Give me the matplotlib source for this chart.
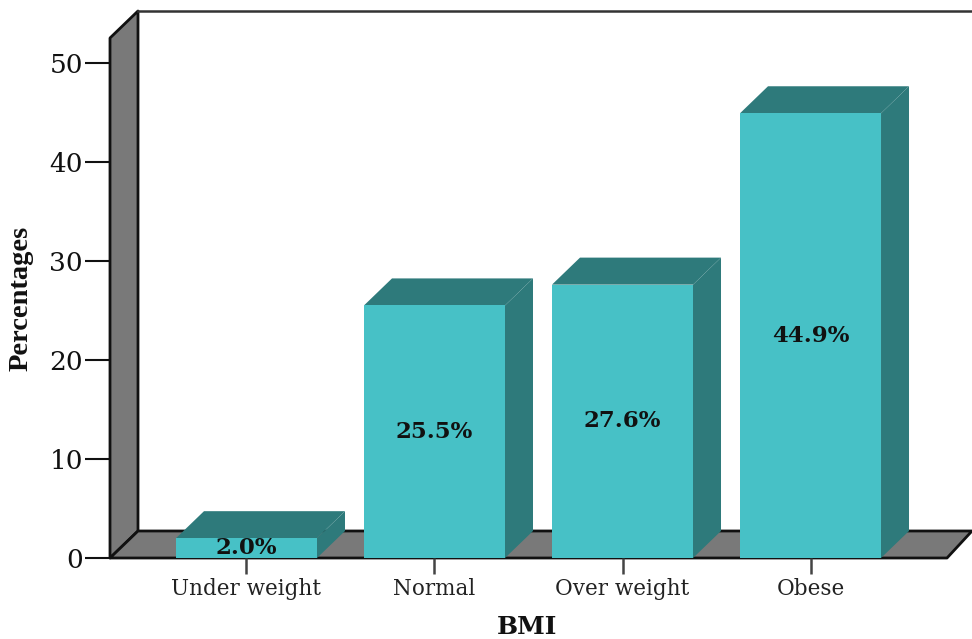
import matplotlib
matplotlib.use("Agg")
import matplotlib.pyplot as plt
from matplotlib.patches import Polygon

categories = ["Under weight", "Normal", "Over weight", "Obese"]
percentages = [2.0, 25.5, 27.6, 44.9]
y_ticks = [0, 10, 20, 30, 40, 50]

FRONT = "#47C1C6"
SIDE = "#2E7A7B"
WALL = "#797979"
INK = "#111111"

W, H = 972, 639
fig = plt.figure(figsize=(W / 100, H / 100), dpi=100, facecolor="white")
# Axes span the front plane of the 3-D box
left, right, bottom, top = 110, 947, 558, 38
ax = fig.add_axes([left / W, 1 - bottom / H, (right - left) / W, (bottom - top) / H])
ax.set_xlim(-0.726, 3.726)
ax.set_ylim(0, 52.5)
ax.patch.set_visible(False)

# Depth of the box and bars, in data units
DX, DY = 28 / 188, 27 / 9.9
x0, x1 = ax.get_xlim()
y0, y1 = ax.get_ylim()


def face(points, color, z, edge="none", lw=0):
    ax.add_patch(Polygon(points, closed=True, facecolor=color, edgecolor=edge,
                         linewidth=lw, zorder=z, clip_on=False, joinstyle="round"))


# Side wall and floor
face([(x0, y0), (x0 + DX, y0 + DY), (x0 + DX, y1 + DY), (x0, y1)], WALL, 1, INK, 2.0)
face([(x0, y0), (x1, y0), (x1 + 25 / 188, y0 + DY), (x0 + DX, y0 + DY)], WALL, 1, INK, 2.0)
# Back plane outline along the top
ax.plot([x0 + DX, x1 + 25 / 188], [y1 + DY, y1 + DY], color="#333333", lw=1.8,
        clip_on=False, zorder=1)

# Bars: side, top, then front face
BAR_W = 0.75
for i, (name, val) in enumerate(zip(categories, percentages)):
    a, b = i - BAR_W / 2, i + BAR_W / 2
    face([(b, 0), (b + DX, DY), (b + DX, val + DY), (b, val)], SIDE, 3 + i)
    face([(a, val), (b, val), (b + DX, val + DY), (a + DX, val + DY)], SIDE, 3 + i)
    face([(a, 0), (b, 0), (b, val), (a, val)], FRONT, 3 + i)
    ax.text(i, val / 2, f"{val:.1f}%", ha="center", va="center", zorder=10,
            family="DejaVu Serif", fontweight="bold", fontsize=16.5, color=INK)

for side in ("top", "right", "left", "bottom"):
    ax.spines[side].set_visible(False)

ax.set_xticks(range(len(categories)), categories, family="DejaVu Serif",
              fontsize=15.5, color="#222222")
ax.set_yticks(y_ticks, [str(t) for t in y_ticks], family="DejaVu Serif",
              fontsize=19, color=INK)
ax.tick_params(axis="x", length=11.5, width=1.8, color="#444444", pad=3)
ax.tick_params(axis="y", length=18, width=1.5, color=INK, pad=1.5)

fig.text(527 / W, 1 - 627 / H, "BMI", ha="center", va="center",
         family="DejaVu Serif", fontweight="bold", fontsize=18, color=INK)
fig.text(21 / W, 1 - 298 / H, "Percentages", ha="center", va="center", rotation=90,
         family="Liberation Serif", fontweight="bold", fontsize=20.5, color=INK)

fig.savefig("out.png", dpi=100, facecolor="white")
